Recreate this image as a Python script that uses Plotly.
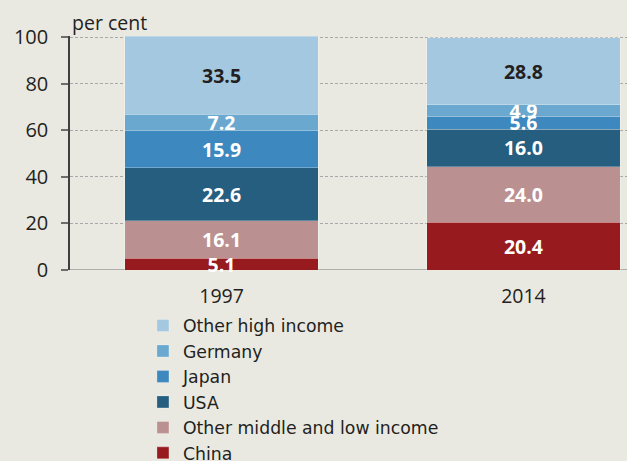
import plotly.graph_objects as go

# Shares of total, per cent
years = ["1997", "2014"]
series_names = ["China", "Other middle and low income", "USA", "Japan", "Germany", "Other high income"]
china = [5.1, 20.4]
other_mid_low = [16.1, 24.0]
usa = [22.6, 16.0]
japan = [15.9, 5.6]
germany = [7.2, 4.9]
other_high = [33.5, 28.8]

series_values = [china, other_mid_low, usa, japan, germany, other_high]
colors = ["#971B1E", "#BA9190", "#255E7F", "#3D88BE", "#6AA8CF", "#A3C8E0"]
text_colors = ["white", "white", "white", "white", "white", "#231F20"]

FONT = "Open Sans"
BG = "#EAE9E1"
INK = "#231F20"
xpos = [0, 1]

fig = go.Figure()
for name, vals, col, tcol in zip(series_names, series_values, colors, text_colors):
    fig.add_trace(go.Bar(
        x=xpos, y=vals, name=name, width=0.64,
        marker=dict(color=col, line=dict(color="rgba(255,255,255,0.45)", width=0.6)),
        texttemplate="%{y:.1f}", textposition="inside", insidetextanchor="middle",
        textfont=dict(family=FONT, size=19.5, color=tcol, weight="bold"),
        cliponaxis=False,
    ))

fig.update_layout(
    barmode="stack",
    width=627, height=461,
    margin=dict(l=70, r=0, t=36, b=191, autoexpand=False),
    paper_bgcolor=BG, plot_bgcolor=BG,
    font=dict(family=FONT, size=19, color=INK),
    uniformtext=dict(minsize=18, mode="show"),
    showlegend=True,
    legend=dict(
        traceorder="reversed", orientation="v",
        x=0.131, xanchor="left", y=-0.161, yanchor="top",
        font=dict(family="DejaVu Sans", size=17.3, color=INK),
        bgcolor="rgba(0,0,0,0)", tracegroupgap=0,
        itemwidth=30,
    ),
    xaxis=dict(
        range=[-0.502, 1.343], tickvals=xpos, ticktext=years,
        showgrid=False, zeroline=False, showline=False, ticks="",
        tickfont=dict(size=19.5), ticklabelstandoff=12,
    ),
    yaxis=dict(
        range=[0, 100.45], tickvals=[0, 20, 40, 60, 80, 100],
        showgrid=True, gridcolor="#A8A8A8", griddash="3px,2px", gridwidth=1,
        zeroline=False, showline=True, linecolor="#3F3F3F", linewidth=1.5,
        ticks="outside", ticklen=7, tickcolor="#6D6D6D", tickwidth=1.5,
        tickfont=dict(size=20), ticklabelstandoff=9,
    ),
)

# Baseline at zero across the plot
fig.add_shape(type="line", xref="paper", yref="y", x0=0, x1=1, y0=0, y1=0,
              line=dict(color="#9A9A9A", width=1.5), layer="below")

fig.add_annotation(text="per cent", xref="paper", yref="paper", x=0, y=1,
                   xanchor="left", yanchor="bottom", yshift=-2, showarrow=False,
                   font=dict(family=FONT, size=19.5, color=INK))

fig.write_html("out.html")
